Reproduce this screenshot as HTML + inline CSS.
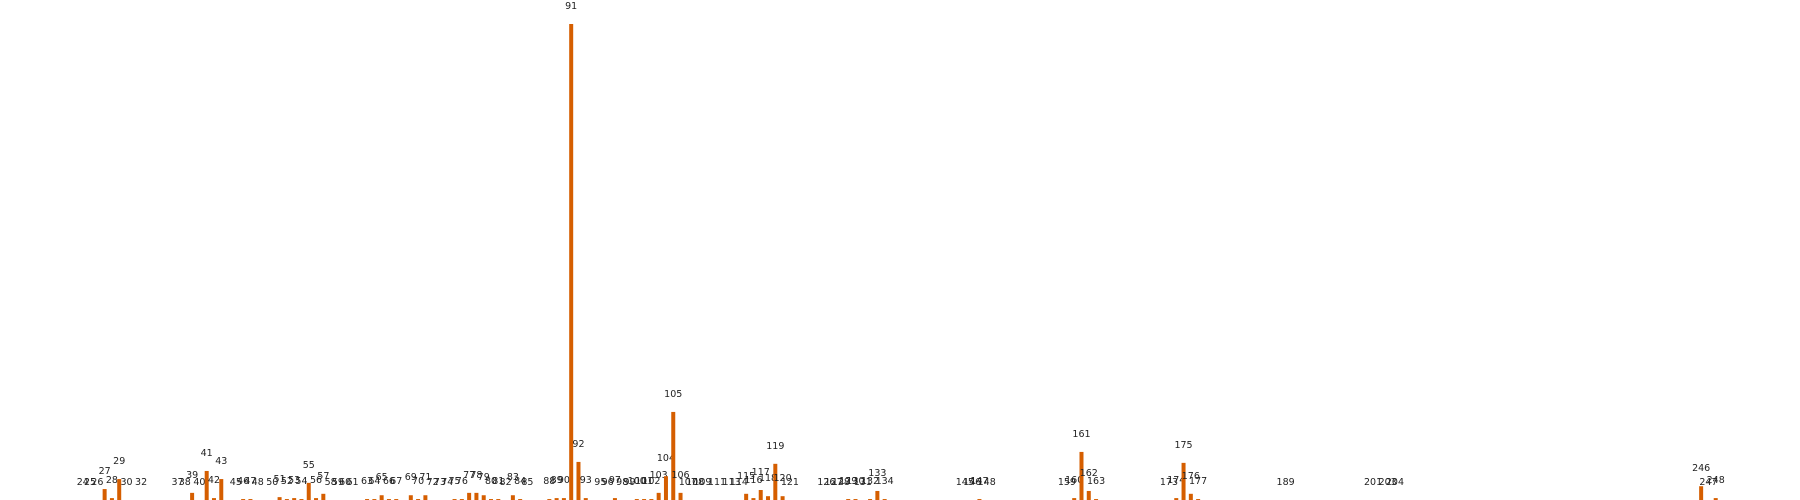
<!DOCTYPE html>
<html><head><meta charset="utf-8"><style>
html,body{margin:0;padding:0;background:#fff;}
svg{display:block;font-family:"DejaVu Sans","Liberation Sans",sans-serif;}
</style></head><body>
<svg id="chart" width="1800" height="500"></svg>
<script>
const mzValues = [24,25,26,27,28,29,30,32,37,38,39,40,41,42,43,45,46,47,48,50,51,52,53,54,55,56,57,58,59,60,61,63,64,65,66,67,69,70,71,72,73,74,75,76,77,78,79,80,81,82,83,84,85,88,89,90,91,92,93,95,96,97,98,99,100,101,102,103,104,105,106,107,108,109,111,113,114,115,116,117,118,119,120,121,126,127,128,129,130,131,132,133,134,145,146,147,148,159,160,161,162,163,173,174,175,176,177,189,201,203,204,246,247,248];
const intensities = [0,0,0,2.3,0.4,4.4,0,0,0,0,1.5,0,6.1,0.4,4.4,0,0.2,0.2,0,0,0.6,0.2,0.4,0.2,3.6,0.4,1.3,0,0,0,0,0.2,0.2,1.0,0.2,0.2,1.0,0.2,1.0,0,0,0,0.2,0.2,1.5,1.5,1.0,0.2,0.2,0,1.0,0.2,0,0.2,0.4,0.4,100,8.0,0.4,0,0,0.4,0,0,0.2,0.2,0.2,1.5,5.0,18.5,1.5,0,0,0,0,0,0,1.3,0.4,2.1,0.8,7.6,0.8,0,0,0,0,0.2,0.2,0,0.2,1.9,0.2,0,0,0.2,0,0,0.4,10.1,1.9,0.2,0,0.4,7.8,1.3,0.2,0,0,0,0,2.9,0,0.4];
const svg = document.getElementById('chart');
const NS = 'http://www.w3.org/2000/svg';
function xScale(mz){ return -92.2 + mz * 7.29; }
function yScale(v){ return 500 - v * 4.76; }
for (let i = 0; i < mzValues.length; i++) {
  const mz = mzValues[i], v = intensities[i];
  const x = xScale(mz), top = yScale(v);
  const r = document.createElementNS(NS, 'rect');
  r.setAttribute('x', (x - 2).toFixed(2));
  r.setAttribute('y', top.toFixed(2));
  r.setAttribute('width', 4);
  r.setAttribute('height', (500 - top).toFixed(2));
  r.setAttribute('fill', '#d55e00');
  
  
  svg.appendChild(r);
  const t = document.createElementNS(NS, 'text');
  t.setAttribute('x', x.toFixed(2));
  t.setAttribute('y', (top - 15).toFixed(2));
  t.setAttribute('text-anchor', 'middle');
  t.setAttribute('font-size', '9.5');
  t.setAttribute('fill', '#222');
  t.textContent = mz;
  
  
  svg.appendChild(t);
}
</script>
</body></html>
